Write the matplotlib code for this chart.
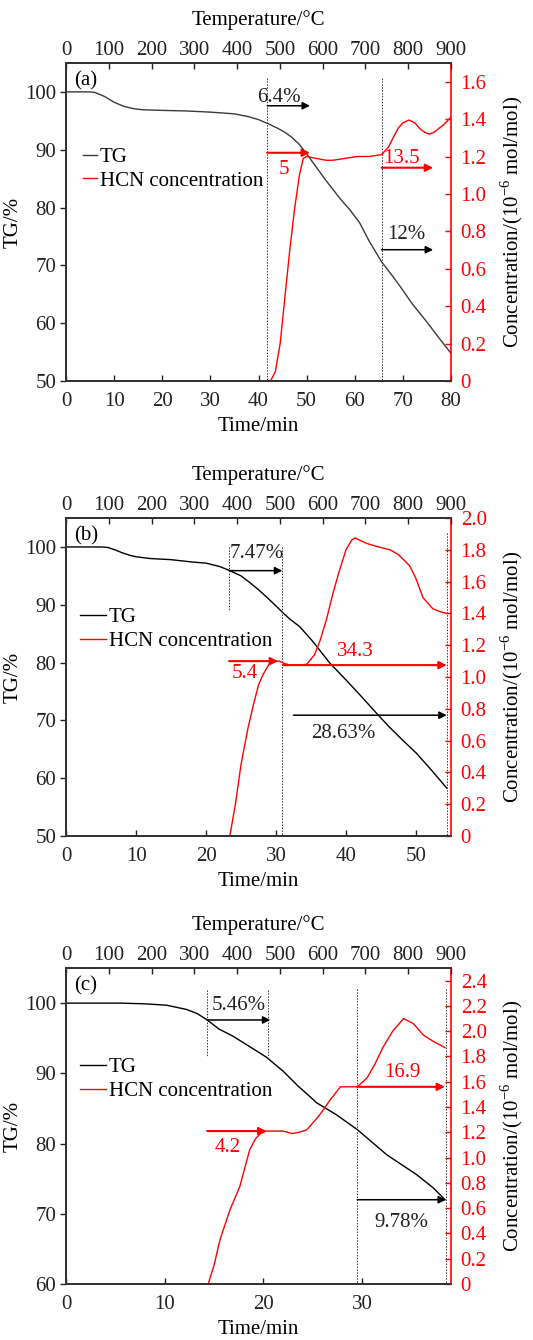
import matplotlib
matplotlib.use('Agg')
import matplotlib.pyplot as plt
from matplotlib.ticker import FuncFormatter
from matplotlib.lines import Line2D

plt.rcParams['font.family'] = ['Liberation Serif', 'DejaVu Serif']
plt.rcParams['mathtext.fontset'] = 'custom'
plt.rcParams['mathtext.rm'] = 'Liberation Serif'
plt.rcParams['font.size'] = 15

# ---- panel (a) ----
tg_a_t = [0, 5, 6, 8, 10, 12, 14, 16, 20, 25, 30, 35, 38, 40, 42, 44, 45.5, 47, 48.5, 50, 52, 54, 57, 59, 61, 63, 65.6, 68, 70, 72, 75, 77, 80]
tg_a = [100, 100, 99.9, 99.2, 98.2, 97.5, 97.1, 96.9, 96.8, 96.7, 96.5, 96.2, 95.7, 95.2, 94.5, 93.7, 93.0, 92.1, 90.9, 89.3, 87.0, 84.7, 81.5, 79.6, 77.4, 74.2, 70.6, 68.0, 65.7, 63.3, 60.2, 58.0, 54.8]
hcn_a_t = [42.5, 43.5, 44.5, 45.5, 46.5, 47.5, 48.5, 49.3, 50, 52, 54, 55.5, 58, 60.5, 63, 65.6, 67, 68, 69, 70, 71.3, 72.5, 73.5, 74.5, 75.5, 76.5, 77.5, 78.5, 80]
hcn_a = [0, 0.05, 0.2, 0.45, 0.7, 0.92, 1.1, 1.19, 1.2, 1.19, 1.18, 1.18, 1.19, 1.2, 1.2, 1.21, 1.25, 1.3, 1.35, 1.38, 1.395, 1.38, 1.35, 1.33, 1.32, 1.33, 1.35, 1.37, 1.41]

# ---- panel (b) ----
tg_b_t = [0, 5, 6, 7, 8, 9, 10, 12, 15, 18, 20, 22, 23.4, 25, 26.3, 27.5, 28.6, 30, 31, 32, 33.4, 35.3, 37.7, 40, 42, 44.4, 46, 48, 50, 52, 54.4]
tg_b = [100, 100, 99.9, 99.5, 99.0, 98.6, 98.3, 98.0, 97.8, 97.4, 97.2, 96.6, 95.9, 95.0, 93.8, 92.6, 91.4, 89.8, 88.6, 87.5, 86.2, 83.6, 79.9, 77.0, 74.4, 71.2, 69.1, 66.7, 64.4, 61.7, 58.3]
hcn_b_t = [23.4, 24.2, 25, 26, 26.8, 27.5, 28.2, 29, 29.8, 30.5, 31.2, 32, 33, 34.4, 35.5, 36.3, 37.2, 38.1, 39, 40, 40.8, 41.3, 42, 43, 44.5, 46.3, 47.5, 49.1, 50, 51, 52.4, 53.5, 54.4]
hcn_b = [0, 0.2, 0.45, 0.68, 0.83, 0.95, 1.02, 1.08, 1.1, 1.1, 1.085, 1.075, 1.075, 1.08, 1.14, 1.23, 1.36, 1.52, 1.66, 1.8, 1.86, 1.875, 1.86, 1.84, 1.82, 1.8, 1.77, 1.7, 1.62, 1.5, 1.43, 1.41, 1.4]

# ---- panel (c) ----
tg_c_t = [0, 5.5, 8, 10.2, 12.2, 13.3, 14.3, 15.5, 16.9, 18.5, 20.3, 22, 23.5, 24.7, 25.4, 27.4, 29.5, 31, 32.5, 34, 35.5, 37.2, 38.4]
tg_c = [100, 100, 99.9, 99.7, 99.1, 98.5, 97.6, 96.3, 95.3, 93.9, 92.3, 90.3, 88.2, 86.7, 85.8, 84.1, 82.0, 80.2, 78.4, 77.0, 75.6, 73.7, 72.0]
hcn_c_t = [14.4, 15, 15.6, 16.6, 17.6, 18.6, 19.2, 19.7, 20.3, 21, 22, 22.9, 23.6, 24.4, 25.4, 26.1, 26.7, 27.2, 27.8, 28.5, 29.5, 30.5, 31.3, 32.1, 33.1, 34.2, 35.2, 36.2, 37.2, 38.4]
hcn_c = [0, 0.15, 0.35, 0.585, 0.77, 1.06, 1.15, 1.19, 1.21, 1.21, 1.21, 1.19, 1.2, 1.22, 1.31, 1.38, 1.45, 1.5, 1.56, 1.56, 1.56, 1.63, 1.74, 1.87, 2.0, 2.1, 2.06, 1.97, 1.92, 1.87]

temp_ticks = [0, 100, 200, 300, 400, 500, 600, 700, 800, 900]

panels = [
    dict(lab='(a)', t=tg_a_t, tg=tg_a, ht=hcn_a_t, h=hcn_a, xmax=80, xstep=10,
         tgmin=50, cmax=1.7, cticks=[0, 0.2, 0.4, 0.6, 0.8, 1.0, 1.2, 1.4, 1.6],
         tgcol='#3a3a3a', pos=[0.124, 0.7157, 0.722, 0.2373], leg=(0.044, 0.735, 0.65)),
    dict(lab='(b)', t=tg_b_t, tg=tg_b, ht=hcn_b_t, h=hcn_b, xmax=55, xstep=10,
         tgmin=50, cmax=2.0, cticks=[0, 0.2, 0.4, 0.6, 0.8, 1.0, 1.2, 1.4, 1.6, 1.8, 2.0],
         tgcol='black', pos=[0.124, 0.3761, 0.722, 0.2373], leg=(0.036, 0.718, 1.25)),
    dict(lab='(c)', t=tg_c_t, tg=tg_c, ht=hcn_c_t, h=hcn_c, xmax=39, xstep=10,
         tgmin=60, cmax=2.5, cticks=[0, 0.2, 0.4, 0.6, 0.8, 1.0, 1.2, 1.4, 1.6, 1.8, 2.0, 2.2, 2.4],
         tgcol='black', pos=[0.124, 0.0418, 0.722, 0.2358], leg=(0.036, 0.716, 1.25)),
]

# annotations: arrows (t0, t1, y); labels (t, y, text); dotted lines (t, y0, y1)
blk_arrows = [[(41.8, 50.7, 97.6), (65.6, 76.3, 72.7)],
              [(23.3, 30.9, 95.9), (32.5, 54.4, 70.9)],
              [(14.3, 20.7, 97.6), (29.5, 38.5, 72.0)]]
blk_text = [[(44.3, 99.0, '6.4%'), (70.8, 75.3, '12%')],
            [(27.2, 98.9, '7.47%'), (39.6, 67.8, '28.63%')],
            [(17.5, 99.7, '5.46%'), (34.0, 68.8, '9.78%')]]
red_arrows = [[(41.8, 50.7, 1.22), (65.6, 76.3, 1.14)],
              [(23.3, 30.3, 1.10), (31.0, 54.4, 1.075)],
              [(14.3, 20.3, 1.21), (29.5, 38.4, 1.56)]]
red_text = [[(45.2, 1.13, '5'), (69.8, 1.19, '13.5')],
            [(25.6, 1.02, '5.4'), (41.3, 1.16, '34.3')],
            [(16.4, 1.08, '4.2'), (34.1, 1.67, '16.9')]]
dot_lines = [[(41.8, 102.4, 50), (65.6, 102.4, 50)],
             [(23.3, 100, 88.9), (30.9, 100, 50), (54.4, 102.4, 50)],
             [(14.3, 101.9, 92.3), (20.5, 101.9, 92.3), (29.5, 102, 60), (38.5, 102, 60)]]

fig = plt.figure(figsize=(5.33, 13.4), dpi=100)
spine_col = '#333333'

for i, p in enumerate(panels):
    ax = fig.add_axes(p['pos'])
    ax2 = ax.twinx()
    ax3 = ax.twiny()

    ax.plot(p['t'], p['tg'], color=p['tgcol'], lw=1.0)
    ax2.plot(p['ht'], p['h'], color='red', lw=1.0)

    ax.set_xlim(0, p['xmax'])
    ax.set_ylim(p['tgmin'], 105)
    ax.set_yticks(range(p['tgmin'], 101, 10))
    ax.set_xticks(range(0, p['xmax'] + 1, p['xstep']))
    ax2.set_ylim(0, p['cmax'])
    ax2.set_yticks(p['cticks'])
    ax2.yaxis.set_major_formatter(FuncFormatter(lambda v, pos: '0' if v == 0 else f'{v:.1f}'))
    ax3.set_xlim(0, 900)
    ax3.set_xticks(temp_ticks)

    ax.set_xlabel('Time/min', labelpad=4)
    ax.set_ylabel('TG/%', labelpad=2)
    ax3.set_xlabel('Temperature/°C', labelpad=12)
    ax2.set_ylabel('Concentration/(10$^{-6}$ mol/mol)', labelpad=8)

    ax.tick_params(axis='y', direction='out', length=4, width=1, colors='#222222', pad=3)
    ax.tick_params(axis='x', direction='in', length=4, width=1, colors='#222222', pad=8)
    ax3.tick_params(axis='x', direction='in', length=4, width=1, colors='#222222', pad=2)
    ax2.tick_params(axis='y', direction='in', length=4, width=1, colors='red', pad=7)

    for a in (ax, ax2, ax3):
        for s in a.spines.values():
            s.set_color(spine_col)
            s.set_linewidth(1.2)
    ax.spines['right'].set_visible(False)
    ax3.spines['right'].set_visible(False)
    ax2.spines['right'].set_color('red')

    for t, y0, y1 in dot_lines[i]:
        ax.plot([t, t], [y0, y1], ls=(0, (1.5, 1.5)), color='#333333', lw=0.7)
    for t0, t1, y in blk_arrows[i]:
        ax.annotate('', xy=(t1, y), xytext=(t0, y),
                    arrowprops=dict(arrowstyle='-|>', color='black', lw=1.1,
                                    mutation_scale=11, shrinkA=0, shrinkB=0))
    for t, y, s in blk_text[i]:
        ax.text(t, y, s, ha='center', va='center', color='#222222')
    for t0, t1, y in red_arrows[i]:
        ax2.annotate('', xy=(t1, y), xytext=(t0, y),
                     arrowprops=dict(arrowstyle='-|>', color='red', lw=1.5,
                                     mutation_scale=11, shrinkA=0, shrinkB=0))
    for t, y, s in red_text[i]:
        ax2.text(t, y, s, ha='center', va='center', color='red')

    ax.text(0.02, 0.945, p['lab'], transform=ax.transAxes, ha='left', va='center')

    lx, ly, hl = p['leg']
    handles = [Line2D([], [], color=p['tgcol'], lw=1.0), Line2D([], [], color='red', lw=1.0)]
    ax2.legend(handles, ['TG', 'HCN concentration'], loc='upper left',
               bbox_to_anchor=(lx, ly), frameon=False, handlelength=hl,
               handletextpad=0.15, labelspacing=0.2, borderpad=0, borderaxespad=0,
               fontsize=15)

fig.savefig('out.png', dpi=100)
